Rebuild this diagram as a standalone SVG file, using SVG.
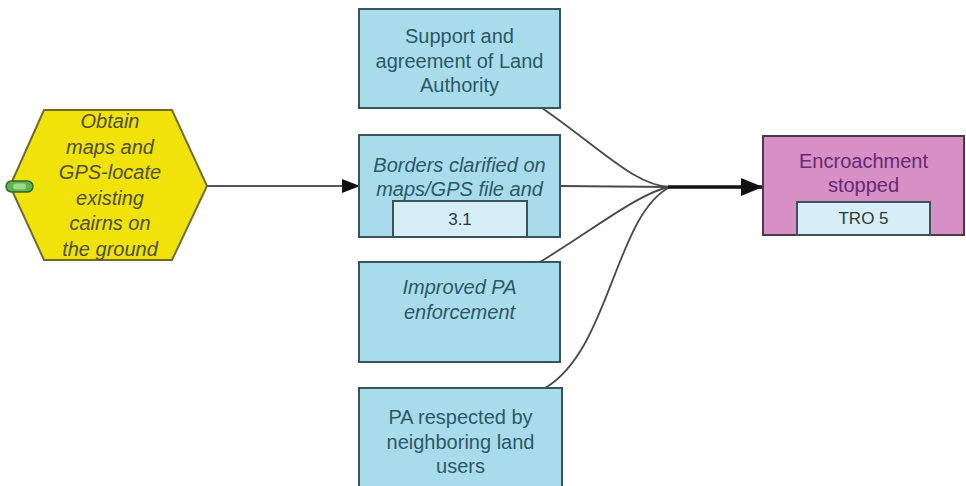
<svg xmlns="http://www.w3.org/2000/svg" width="966" height="486" viewBox="0 0 966 486">
  <defs>
    <marker id="arrowSmall" markerWidth="18" markerHeight="14" refX="18" refY="7" orient="auto" markerUnits="userSpaceOnUse">
      <path d="M0,0 L18,7 L0,14 Z" fill="#111"/>
    </marker>
    <marker id="arrowBig" markerWidth="22" markerHeight="18" refX="22" refY="9" orient="auto" markerUnits="userSpaceOnUse">
      <path d="M0,0 L22,9 L0,18 Z" fill="#111"/>
    </marker>
  </defs>
  <style>
    .box { fill: #a8dcea; stroke: #3b535d; stroke-width: 2; }
    .tag { fill: #d6eef6; stroke: #3b535d; stroke-width: 2; }
    .hex { fill: #f1e30a; stroke: #6f6c2c; stroke-width: 2; }
    .goal { fill: #d78fc5; stroke: #4a3a48; stroke-width: 2; }
    .t { font-family: "Liberation Sans", Arial, sans-serif; font-size: 20px; text-anchor: middle; }
    .blue { fill: #2c5966; }
    .it { font-style: italic; }
    .hext { fill: #4f4e3a; font-style: italic; }
    .purple { fill: #652b73; }
    .small { font-size: 17px; fill: #2b3a40; }
    .link { fill: none; stroke: #4a4a4a; stroke-width: 1.8; }
  </style>

  <g id="connectors">
    <line x1="207" y1="186" x2="360" y2="186" stroke="#555" stroke-width="2" marker-end="url(#arrowSmall)"/>
    <path class="link" d="M542,108 C600,148 635,186 670,187"/>
    <path class="link" d="M560,186 L670,187"/>
    <path class="link" d="M540,262 C590,232 640,192 670,187"/>
    <path class="link" d="M545,388 C610,350 615,215 670,187"/>
    <line x1="668" y1="187" x2="763" y2="187" stroke="#111" stroke-width="3.5" marker-end="url(#arrowBig)"/>
  </g>

  <g id="strategy">
    <polygon class="hex" points="10,186 44,110 172,110 207,186 172,260 44,260"/>
    <rect x="6" y="181" width="27" height="11" rx="5.5" fill="#5fb24f" stroke="#2e6b2a" stroke-width="1.5"/>
    <rect x="13" y="183.5" width="13" height="6" rx="3" fill="#9fd88a"/>
    <text class="t hext" x="110" y="128">Obtain</text>
    <text class="t hext" x="110" y="153.5">maps and</text>
    <text class="t hext" x="110" y="179">GPS-locate</text>
    <text class="t hext" x="110" y="204.5">existing</text>
    <text class="t hext" x="110" y="230">cairns on</text>
    <text class="t hext" x="110" y="255.5">the ground</text>
  </g>

  <g id="land-authority">
    <rect class="box" x="359" y="9" width="201" height="99"/>
    <text class="t blue" x="459.5" y="43">Support and</text>
    <text class="t blue" x="459.5" y="67.5">agreement of Land</text>
    <text class="t blue" x="459.5" y="92">Authority</text>
  </g>

  <g id="borders-clarified">
    <rect class="box" x="359" y="135" width="201" height="102"/>
    <text class="t blue it" x="459.5" y="172">Borders clarified on</text>
    <text class="t blue it" x="459.5" y="196">maps/GPS file and</text>
    <rect class="tag" x="393" y="201" width="134" height="36"/>
    <text class="t small" x="460" y="225">3.1</text>
  </g>

  <g id="pa-enforcement">
    <rect class="box" x="359" y="262" width="201" height="100"/>
    <text class="t blue it" x="459.5" y="294">Improved PA</text>
    <text class="t blue it" x="459.5" y="319">enforcement</text>
  </g>

  <g id="pa-respected">
    <rect class="box" x="359" y="388" width="203" height="110"/>
    <text class="t blue" x="460.5" y="424">PA respected by</text>
    <text class="t blue" x="460.5" y="448.5">neighboring land</text>
    <text class="t blue" x="460.5" y="473">users</text>
  </g>

  <g id="encroachment-stopped">
    <rect class="goal" x="763" y="136" width="201" height="99"/>
    <text class="t purple" x="863.5" y="168">Encroachment</text>
    <text class="t purple" x="863.5" y="192">stopped</text>
    <rect class="tag" x="797" y="202" width="133" height="33"/>
    <text class="t small" x="863.5" y="224">TRO 5</text>
  </g>
</svg>
